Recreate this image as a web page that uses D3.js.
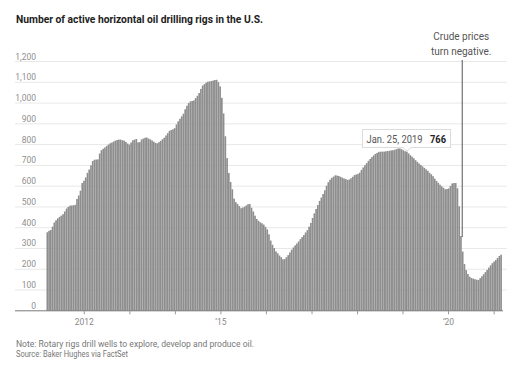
<!DOCTYPE html>
<html><head><meta charset="utf-8">
<script src="https://cdn.jsdelivr.net/npm/d3@7"></script>
<style>
html,body{margin:0;padding:0;background:#fff;}
svg{display:block;font-family:"Liberation Sans Narrow","Roboto","Noto Sans",sans-serif;}
</style></head>
<body>
<svg id="chart" width="513" height="366"></svg>
<script>
// ---- data ----
const title = "Number of active horizontal oil drilling rigs in the U.S.";
const firstWeek = "2011-03-04";      // first bar (every other Friday after)
const stepDays = 14;
const rigs = [
378,385,389,405,425,436,445,452,458,465,478,492,500,506,507,508,510,538,555,578,
615,626,642,664,680,700,721,727,728,729,757,773,780,786,793,800,806,810,815,819,
822,824,824,821,819,813,805,800,810,821,824,827,811,812,825,829,833,834,829,825,
820,814,808,806,812,818,826,833,844,855,866,870,874,879,897,912,924,936,949,970,
987,1000,1008,1010,1013,1024,1035,1048,1068,1084,1091,1098,1103,1104,1106,1108,1111,1112,1101,1080,
1025,950,840,735,663,620,585,540,523,514,504,494,497,501,507,513,514,496,478,458,
442,433,426,421,415,404,392,368,338,318,302,286,277,266,258,248,249,258,268,281,
294,305,315,324,334,345,355,365,377,388,405,423,447,469,490,509,529,545,562,580,
602,619,631,640,646,652,651,649,645,641,637,634,630,632,638,645,653,656,659,665,
678,690,701,711,722,731,740,748,755,760,765,766,766,766,768,769,770,772,773,775,
778,781,781,778,773,768,766,758,749,742,734,725,717,709,702,695,688,681,674,664,
657,648,636,625,616,607,599,592,585,586,589,601,613,615,615,590,503,360,285,225,
196,177,164,158,155,152,150,148,157,166,176,186,197,208,219,229,237,245,254,264,
270
];
const yTicks = [0,100,200,300,400,500,600,700,800,900,1000,1100,1200];
const xTickYears = [2012,2013,2014,2015,2016,2017,2018,2019,2020,2021];
const xTickLabels = {2012:"2012",2015:"\u201915",2020:"\u201920"};
const tooltip = {date:"2019-01-25", label:"Jan. 25, 2019", value:"766"};
const annotation = {date:"2020-04-20", lines:["Crude prices","turn negative."], endValue:355};
const notes = ["Note: Rotary rigs drill wells to explore, develop and produce oil.","Source: Baker Hughes via FactSet"];

// ---- setup ----
const parse = d3.utcParse("%Y-%m-%d");
const start = parse(firstWeek);
const dates = rigs.map((v,i)=>d3.utcDay.offset(start, stepDays*i));
const data = rigs.map((v,i)=>({date:dates[i], value:v}));
const end = d3.utcDay.offset(dates[dates.length-1], stepDays);

const svg = d3.select("#chart");
const x = d3.scaleUtc().domain([start,end]).range([46.5,502]);
const y = d3.scaleLinear().domain([0,1200]).range([310.8,61.5]);

// title
svg.append("text").attr("x",16).attr("y",23)
  .attr("font-size",11).attr("font-weight","bold").attr("fill","#222")
  .attr("textLength",247).attr("lengthAdjust","spacingAndGlyphs")
  .text(title);

// gridlines
svg.append("g").selectAll("line").data(yTicks.filter(d=>d>0)).join("line")
  .attr("x1",15).attr("x2",507)
  .attr("y1",d=>y(d)).attr("y2",d=>y(d))
  .attr("stroke","#e8e8e8").attr("stroke-width",1);

// y labels
svg.append("g").selectAll("text").data(yTicks).join("text")
  .attr("x",36).attr("y",d=>y(d)-2)
  .attr("text-anchor","end").attr("font-size",8.5).attr("fill","#8f8f8f")
  .text(d=>d3.format(",")(d));

// bars
svg.append("g").selectAll("rect").data(data).join("rect")
  .attr("x",d=>x(d.date))
  .attr("width",d=>x(d3.utcDay.offset(d.date,stepDays))-x(d.date)-0.08)
  .attr("y",d=>y(d.value))
  .attr("height",d=>y(0)-y(d.value))
  .attr("fill","#8e8e8e");

// baseline
svg.append("line").attr("x1",15).attr("x2",503)
  .attr("y1",y(0)).attr("y2",y(0)).attr("stroke","#7a7a7a").attr("stroke-width",1);

// x ticks
const xt = svg.append("g");
xTickYears.forEach(yr=>{
  const xx = x(new Date(Date.UTC(yr,0,1)));
  xt.append("line").attr("x1",xx).attr("x2",xx).attr("y1",y(0)).attr("y2",y(0)+3.5)
    .attr("stroke","#9a9a9a").attr("stroke-width",1);
  if(xTickLabels[yr]) xt.append("text").attr("x",xx).attr("y",325)
    .attr("text-anchor","middle").attr("font-size",8.5).attr("fill","#8a8a8a")
    .text(xTickLabels[yr]);
});

// annotation line
const ax = x(parse(annotation.date));
svg.append("line").attr("x1",ax).attr("x2",ax).attr("y1",60).attr("y2",y(annotation.endValue))
  .attr("stroke","#555").attr("stroke-width",1);
annotation.lines.forEach((t,i)=>{
  svg.append("text").attr("x",ax-1).attr("y",39.5+i*15.5)
    .attr("text-anchor","middle").attr("font-size",10).attr("fill","#555").text(t);
});

// tooltip
const tx = x(parse(tooltip.date))+1;
const tg = svg.append("g");
tg.append("rect").attr("x",362.5).attr("y",129.5).attr("width",88).attr("height",18)
  .attr("fill","#fff").attr("stroke","#dcdcdc").attr("stroke-width",1);
tg.append("path").attr("d",`M${tx-4},147.5L${tx},151L${tx+4},147.5`)
  .attr("fill","#fff").attr("stroke","#dcdcdc").attr("stroke-width",1);
tg.append("line").attr("x1",tx-3.4).attr("x2",tx+3.4).attr("y1",147.5).attr("y2",147.5)
  .attr("stroke","#fff").attr("stroke-width",1.2);
tg.append("text").attr("x",366.5).attr("y",143).attr("font-size",10).attr("fill","#555")
  .attr("textLength",56).attr("lengthAdjust","spacingAndGlyphs").text(tooltip.label);
tg.append("text").attr("x",430).attr("y",143).attr("font-size",10).attr("font-weight","bold").attr("fill","#222")
  .attr("textLength",16).attr("lengthAdjust","spacingAndGlyphs").text(tooltip.value);

// notes
const noteW = [238,112];
notes.forEach((t,i)=>{
  svg.append("text").attr("x",16).attr("y",346.5+i*10.5)
    .attr("font-size",9).attr("fill","#777")
    .attr("textLength",noteW[i]).attr("lengthAdjust","spacingAndGlyphs").text(t);
});
</script>
</body></html>
